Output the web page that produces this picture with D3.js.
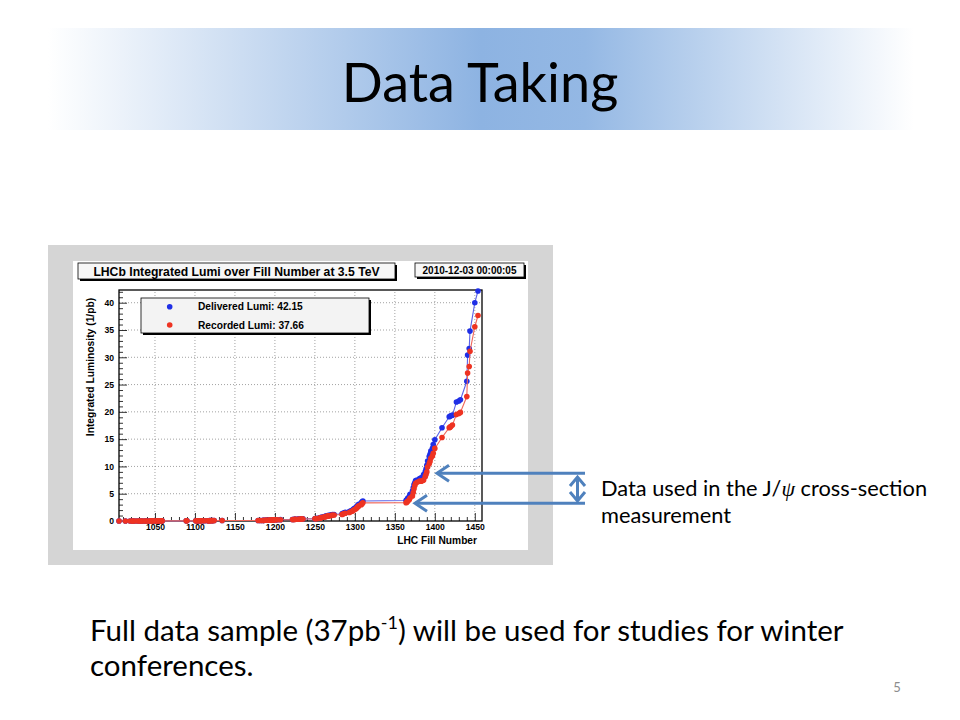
<!DOCTYPE html>
<html><head><meta charset="utf-8">
<script src="https://cdn.jsdelivr.net/npm/d3@7"></script>
<style>body{margin:0;background:#fff;} svg{display:block;}</style>
</head><body>
<svg id="slide" width="960" height="720"></svg>
<script>
// ---------------- data ----------------
const fills = [1005,1013,1019,1022,1023,1026,1029,1031,1033,1035,1038,1039,1042,1044,1045,1047,1049,1052,1054,1055,1058,1059,
  1089,1090,
  1101,1103,1104,1106,1107,1109,1112,1116,1117,1118,1119,1121,1122,1124,
  1134,
  1179,1182,1185,1186,1188,1189,1190,1192,1193,1194,1196,1197,1198,1199,1201,1203,
  1207,
  1222,1224,1225,1226,1229,1230,1232,1233,1234,1235,
  1250,1251,1253,1256,1257,1258,1260,1262,1263,1264,1266,1267,1268,1270,1271,1272,1274,
  1284,1285,1287,1288,1293,1295,1297,1298,1299,1301,1302,1303,1304,1305,1308,1309,1310,
  1364,1365,1366,1368,1369,1372,1373,1374,1375,1376,1378,1381,1383,1385,1386,1388,1389,1390,1391,1393,1394,1395,1397,1398,1400,
  1409,1418,1419,1420,1422,1427,1430,1432,1440,1441,1443,1444,1450,1454];

const delivered = [0.0003,0.001,0.002,0.003,0.004,0.005,0.006,0.007,0.008,0.009,0.010,0.011,0.012,0.013,0.014,0.015,0.016,0.017,0.018,0.019,0.020,0.021,
  0.023,0.025,
  0.028,0.031,0.034,0.037,0.040,0.044,0.048,0.052,0.056,0.060,0.065,0.070,0.075,0.080,
  0.085,
  0.09,0.10,0.11,0.12,0.13,0.14,0.15,0.16,0.17,0.18,0.19,0.20,0.21,0.22,0.23,0.24,
  0.25,
  0.28,0.30,0.32,0.33,0.34,0.35,0.36,0.37,0.38,0.39,
  0.42,0.46,0.50,0.56,0.62,0.68,0.74,0.80,0.86,0.92,0.98,1.02,1.06,1.10,1.14,1.17,1.20,
  1.30,1.42,1.52,1.58,1.72,1.86,2.00,2.12,2.26,2.42,2.58,2.76,2.92,3.08,3.32,3.50,3.66,
  3.75,3.90,4.15,4.50,4.90,5.50,6.10,6.70,7.00,7.40,7.50,7.80,7.90,8.10,8.50,9.00,9.50,10.2,11.0,11.8,12.2,12.8,13.3,14.0,14.9,
  17.1,19.1,19.2,19.3,19.4,21.8,22.0,22.2,25.6,30.4,31.6,34.8,40.0,42.15];

const recorded = [0.0003,0.001,0.002,0.003,0.004,0.005,0.006,0.007,0.008,0.009,0.010,0.011,0.012,0.013,0.014,0.015,0.016,0.017,0.018,0.019,0.020,0.021,
  0.023,0.025,
  0.027,0.030,0.033,0.036,0.039,0.042,0.046,0.050,0.054,0.058,0.062,0.067,0.072,0.077,
  0.082,
  0.087,0.095,0.105,0.115,0.125,0.135,0.14,0.15,0.16,0.17,0.18,0.19,0.20,0.21,0.22,0.23,
  0.24,
  0.26,0.28,0.30,0.31,0.32,0.33,0.34,0.35,0.36,0.37,
  0.40,0.43,0.47,0.52,0.57,0.62,0.68,0.73,0.78,0.84,0.89,0.93,0.96,1.00,1.03,1.06,1.09,
  1.18,1.28,1.37,1.42,1.55,1.68,1.81,1.92,2.04,2.18,2.33,2.49,2.63,2.78,3.00,3.18,3.33,
  3.35,3.45,3.60,3.90,4.20,4.60,5.20,5.90,6.50,6.90,7.10,7.30,7.30,7.40,7.50,8.10,8.50,9.00,9.90,10.5,10.9,11.5,11.9,12.4,13.3,
  15.3,17.1,17.2,17.3,17.6,19.5,19.7,19.9,22.8,27.1,28.3,31.1,35.6,37.66];

const xTicks = [1050,1100,1150,1200,1250,1300,1350,1400,1450];
const yTicks = [0,5,10,15,20,25,30,35,40];
const chartTitle = "LHCb Integrated Lumi over Fill Number at 3.5 TeV";
const dateStamp = "2010-12-03 00:00:05";
const legendLabels = ["Delivered Lumi: 42.15", "Recorded Lumi: 37.66"];
const yAxisTitle = "Integrated Luminosity (1/pb)";
const xAxisTitle = "LHC Fill Number";
const slideTitle = "Data Taking";
const pageNumber = "5";

// ---------------- drawing ----------------
const svg = d3.select("#slide");
const defs = svg.append("defs");
const grad = defs.append("linearGradient").attr("id","band").attr("x1","0").attr("x2","1").attr("y1","0").attr("y2","0");
grad.append("stop").attr("offset","0").attr("stop-color","#ffffff");
grad.append("stop").attr("offset","0.5").attr("stop-color","#8db3e2");
grad.append("stop").attr("offset","0.62").attr("stop-color","#94b8e4");
grad.append("stop").attr("offset","1").attr("stop-color","#ffffff");

svg.append("rect").attr("x",48).attr("y",28).attr("width",866).attr("height",102).attr("fill","url(#band)");
svg.append("text").attr("x",480).attr("y",102).attr("text-anchor","middle")
  .attr("font-family","Lato, 'Open Sans', sans-serif").attr("font-size",54).attr("fill","#000")
  .text(slideTitle);

// chart canvas
svg.append("rect").attr("x",48).attr("y",245).attr("width",505).attr("height",320).attr("fill","#d5d5d5");
svg.append("rect").attr("x",73).attr("y",261).attr("width",455).attr("height",289).attr("fill","#ffffff");

const x = d3.scaleLinear().domain([1005,1459]).range([119,482]);
const y = d3.scaleLinear().domain([0,42.33]).range([521,290]);
const rootFont = "'Liberation Sans', Arial, Helvetica, sans-serif";

// grid
const g = svg.append("g");
g.selectAll(".gx").data(xTicks).join("line")
  .attr("x1",d=>x(d)).attr("x2",d=>x(d)).attr("y1",y.range()[0]).attr("y2",y.range()[1])
  .attr("stroke","#8a8a8a").attr("stroke-width",0.8).attr("stroke-dasharray","1,2");
g.selectAll(".gy").data(yTicks.filter(d=>d>0)).join("line")
  .attr("x1",x.range()[0]).attr("x2",x.range()[1]).attr("y1",d=>y(d)).attr("y2",d=>y(d))
  .attr("stroke","#8a8a8a").attr("stroke-width",0.8).attr("stroke-dasharray","1,2");

// axes
const xMinor = d3.range(1010,1459,10).filter(v=>v%50!==0);
const yMinor = d3.range(1,43,1).filter(v=>v%5!==0);
const xAx = svg.append("g").attr("transform",`translate(0,${y(0)})`)
  .call(d3.axisBottom(x).tickValues(xTicks).tickSize(-8).tickPadding(3).tickFormat(d3.format("d")));
const xAxm = svg.append("g").attr("transform",`translate(0,${y(0)})`)
  .call(d3.axisBottom(x).tickValues(xMinor).tickSize(-4).tickFormat(""));
const yAx = svg.append("g").attr("transform",`translate(${x.range()[0]},0)`)
  .call(d3.axisLeft(y).tickValues(yTicks).tickSize(-8).tickPadding(5));
const yAxm = svg.append("g").attr("transform",`translate(${x.range()[0]},0)`)
  .call(d3.axisLeft(y).tickValues(yMinor).tickSize(-4).tickFormat(""));
[xAx,xAxm,yAx,yAxm].forEach(a=>{
  a.select(".domain").remove();
  a.selectAll("line").attr("stroke","#000").attr("stroke-width",0.8);
  a.selectAll("text").attr("font-family",rootFont).attr("font-weight","bold").attr("font-size",8.6).attr("fill","#000");
});

// frame
svg.append("rect").attr("x",x.range()[0]).attr("y",y.range()[1])
  .attr("width",x.range()[1]-x.range()[0]).attr("height",y.range()[0]-y.range()[1])
  .attr("fill","none").attr("stroke","#000").attr("stroke-width",1.3);

// series
const dData = fills.map((f,i)=>({f, v: delivered[i]}));
const rData = fills.map((f,i)=>({f, v: recorded[i]}));
const line = d3.line().x(d=>x(d.f)).y(d=>y(d.v));
svg.append("path").datum(dData).attr("d",line).attr("fill","none").attr("stroke","#5b63e8").attr("stroke-width",1.1);
svg.selectAll(".pd").data(dData).join("circle").attr("cx",d=>x(d.f)).attr("cy",d=>y(d.v)).attr("r",2.8).attr("fill","#1f2fe6");
svg.append("path").datum(rData).attr("d",line).attr("fill","none").attr("stroke","#f0675a").attr("stroke-width",1.1);
svg.selectAll(".pr").data(rData).join("circle").attr("cx",d=>x(d.f)).attr("cy",d=>y(d.v)).attr("r",2.8).attr("fill","#ee3322");

// title box
function shadowBox(x0,y0,w,h,fill){
  svg.append("rect").attr("x",x0+2).attr("y",y0+2).attr("width",w).attr("height",h).attr("fill","#000");
  svg.append("rect").attr("x",x0).attr("y",y0).attr("width",w).attr("height",h).attr("fill",fill).attr("stroke","#000").attr("stroke-width",0.8);
}
shadowBox(78,263,317,16,"#f7f7f7");
svg.append("text").attr("x",236.5).attr("y",275.5).attr("text-anchor","middle")
  .attr("font-family",rootFont).attr("font-weight","bold").attr("font-size",12.2).text(chartTitle);
shadowBox(415,263,109,14,"#f7f7f7");
svg.append("text").attr("x",469.5).attr("y",274).attr("text-anchor","middle")
  .attr("font-family",rootFont).attr("font-weight","bold").attr("font-size",10).text(dateStamp);

// legend
shadowBox(141,298,228,35,"#f3f3f3");
const legColors = ["#1f2fe6","#ee3322"];
legendLabels.forEach((t,i)=>{
  const cy = 306.7 + i*18.3;
  svg.append("circle").attr("cx",169.7).attr("cy",cy).attr("r",2.8).attr("fill",legColors[i]);
  svg.append("text").attr("x",198).attr("y",cy+3.6).attr("font-family",rootFont).attr("font-weight","bold").attr("font-size",10.2).text(t);
});

// axis titles
svg.append("text").attr("transform","translate(93.5,367) rotate(-90)").attr("text-anchor","middle")
  .attr("font-family",rootFont).attr("font-weight","bold").attr("font-size",10.3).text(yAxisTitle);
svg.append("text").attr("x",477).attr("y",544).attr("text-anchor","end")
  .attr("font-family",rootFont).attr("font-weight","bold").attr("font-size",10.2).text(xAxisTitle);

// annotation arrows
const arrowColor = "#4f81bd";
const ann = svg.append("g").attr("stroke",arrowColor).attr("stroke-width",3).attr("fill","none").attr("stroke-linecap","butt");
function hArrow(x1,x2,yy){
  ann.append("line").attr("x1",x1).attr("x2",x2+1).attr("y1",yy).attr("y2",yy);
  ann.append("path").attr("d",`M${x2+13},${yy-8} L${x2+1},${yy} L${x2+13},${yy+8}`).attr("stroke-linejoin","miter");
}
hArrow(585,436,473.3);
hArrow(585,414,503.3);
ann.append("line").attr("x1",577.5).attr("x2",577.5).attr("y1",477).attr("y2",501);
ann.append("path").attr("d","M570,486 L577.5,477 L585,486");
ann.append("path").attr("d","M570,492 L577.5,501 L585,492");

// annotation text
const calFont = "Lato, 'Open Sans', sans-serif";
const a1 = svg.append("text").attr("x",601).attr("y",496).attr("font-family",calFont).attr("font-size",21.8).attr("fill","#000");
a1.append("tspan").text("Data used in the J/");
a1.append("tspan").attr("font-family","'Liberation Serif', 'DejaVu Serif', serif").attr("font-style","italic").text("ψ");
a1.append("tspan").text(" cross-section");
svg.append("text").attr("x",601).attr("y",523).attr("font-family",calFont).attr("font-size",21.8).attr("fill","#000").text("measurement");

// bottom text
const b1 = svg.append("text").attr("x",90).attr("y",641).attr("font-family",calFont).attr("font-size",29.5).attr("fill","#000");
b1.append("tspan").text("Full data sample (37pb");
b1.append("tspan").attr("font-size",18).attr("dy",-12).text("-1");
b1.append("tspan").attr("dy",12).text(") will be used for studies for winter");
svg.append("text").attr("x",90).attr("y",676).attr("font-family",calFont).attr("font-size",29.5).attr("fill","#000").text("conferences.");

svg.append("text").attr("x",897).attr("y",692).attr("text-anchor","middle").attr("font-family",calFont).attr("font-size",13).attr("fill","#8c8c8c").text(pageNumber);
</script>
</body></html>
